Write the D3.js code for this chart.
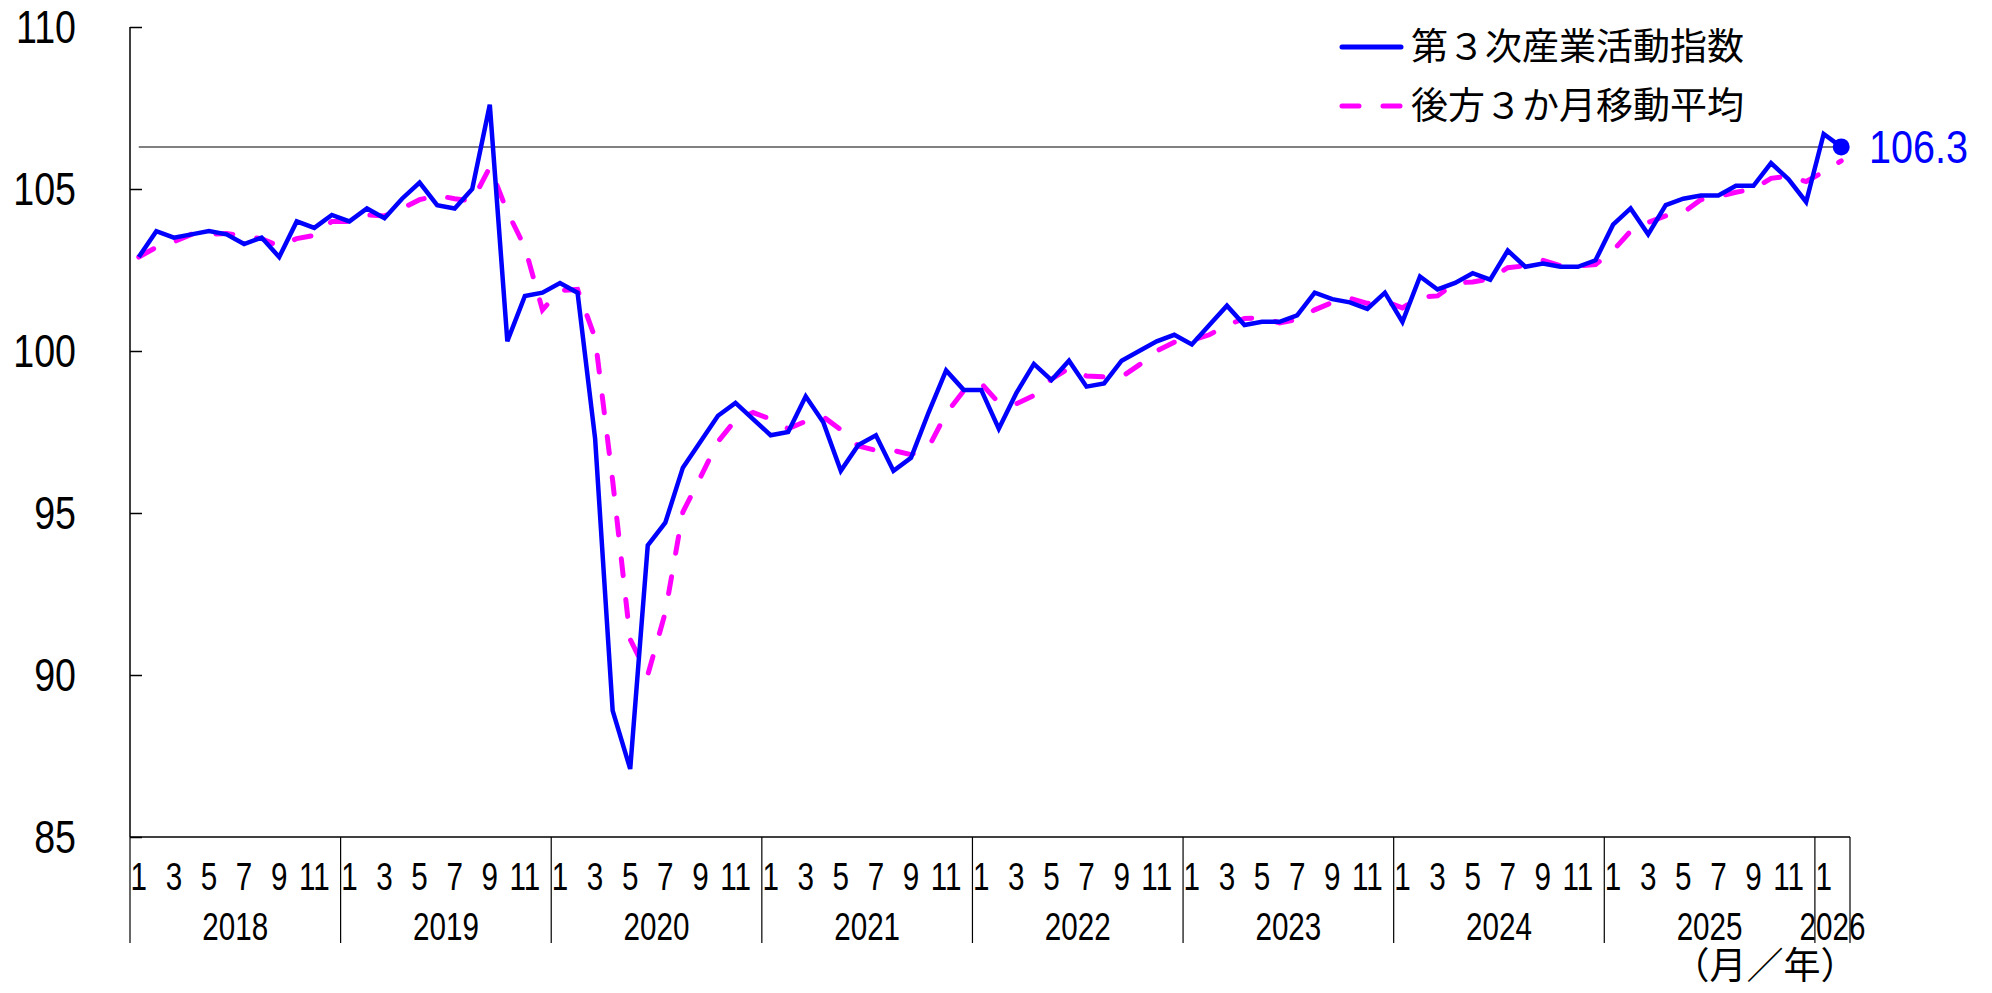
<!DOCTYPE html>
<html><head><meta charset="utf-8">
<script src="https://cdn.jsdelivr.net/npm/d3@7"></script>
<style>
body{margin:0;background:#fff;}
svg{display:block;}
.num{font-family:"Liberation Sans","Arial",sans-serif;}
.jp{font-family:"Noto Sans CJK JP","Noto Sans CJK SC",sans-serif;}
</style></head><body>
<svg id="c" width="1992" height="993"></svg>
<script>
const years = [2018,2019,2020,2021,2022,2023,2024,2025,2026];
const monthsInYear = [12,12,12,12,12,12,12,12,2];
const monthTickLabels = [1,3,5,7,9,11];
const yTicks = [85,90,95,100,105,110];
const seriesNames = ["第３次産業活動指数","後方３か月移動平均"];
const index = [
 102.9,103.7,103.5,103.6,103.7,103.6,103.3,103.5,102.9,104.0,103.8,104.2,
 104.0,104.4,104.1,104.7,105.2,104.5,104.4,105.0,107.6,100.3,101.7,101.8,
 102.1,101.8,97.3,88.9,87.1,94.0,94.7,96.4,97.2,98.0,98.4,97.9,
 97.4,97.5,98.6,97.8,96.3,97.1,97.4,96.3,96.7,98.1,99.4,98.8,
 98.8,97.6,98.7,99.6,99.1,99.7,98.9,99.0,99.7,100.0,100.3,100.5,
 100.2,100.8,101.4,100.8,100.9,100.9,101.1,101.8,101.6,101.5,101.3,101.8,
 100.9,102.3,101.9,102.1,102.4,102.2,103.1,102.6,102.7,102.6,102.6,102.8,
 103.9,104.4,103.6,104.5,104.7,104.8,104.8,105.1,105.1,105.8,105.3,104.6,
 106.7,106.3];
const movingAvg = [
 102.9,103.2,103.37,103.6,103.6,103.63,103.53,103.47,103.23,103.47,103.57,104.0,
 104.0,104.2,104.17,104.4,104.67,104.8,104.7,104.63,105.67,104.3,103.2,101.27,
 101.87,101.9,100.4,96.0,91.1,90.0,91.93,95.03,96.1,97.2,97.87,98.1,
 97.9,97.6,97.83,97.97,97.57,97.07,96.93,96.93,96.8,97.03,98.07,98.77,
 99.0,98.4,98.37,98.63,99.13,99.47,99.23,99.2,99.2,99.57,100.0,100.27,
 100.33,100.5,100.8,101.0,101.03,100.87,100.97,101.27,101.5,101.63,101.47,101.53,
 101.33,101.67,101.7,102.1,102.13,102.23,102.57,102.63,102.8,102.63,102.63,102.67,
 103.1,103.7,103.97,104.17,104.27,104.67,104.77,104.9,105.0,105.33,105.4,105.23,
 105.53,105.87];
const latestLabel = "106.3";

const months = [];
years.forEach((y,yi)=>{for(let m=1;m<=monthsInYear[yi];m++) months.push({y,m,key:y+"-"+m});});
const data = months.map((d,i)=>({...d, v:index[i], ma:movingAvg[i]}));

const svg = d3.select("#c");
const L=130, R=1850, T=27, B=837;
const x = d3.scaleBand().domain(months.map(d=>d.key)).range([L,R]).padding(0);
const cx = k => x(k)+x.bandwidth()/2;
const y = d3.scaleLinear().domain([85,110]).range([B,T]);

function ctext(parent, px, py, txt, size, anchor, sx, fill){
  return parent.append("text").attr("class","num")
    .attr("transform",`translate(${px},${py}) scale(${sx},1)`)
    .attr("text-anchor",anchor).attr("font-size",size).attr("fill",fill||"#000").text(txt);
}

const yAxis = d3.axisRight(y).tickValues(yTicks).tickSize(12).tickFormat("");
const ga = svg.append("g").attr("transform",`translate(${L},0)`).call(yAxis);
ga.select(".domain").attr("stroke","#000").attr("stroke-width",1.5).attr("d",`M0,${T}V${B}`);
ga.selectAll(".tick line").attr("stroke","#000").attr("stroke-width",1.5);
const gy = svg.append("g");
yTicks.forEach(t=>ctext(gy, 76, y(t)+16, t, 47, "end", 0.8));

svg.append("line").attr("x1",L).attr("x2",R).attr("y1",B).attr("y2",B).attr("stroke","#000").attr("stroke-width",1.5);
const yearStarts = months.filter(d=>d.m===1).map(d=>x(d.key));
yearStarts.concat([R]).forEach(px=>{
  svg.append("line").attr("x1",px).attr("x2",px).attr("y1",B).attr("y2",943).attr("stroke","#000").attr("stroke-width",1.2);
});
const gm = svg.append("g");
months.filter(d=>monthTickLabels.includes(d.m)).forEach(d=>ctext(gm, cx(d.key), 890, d.m, 39, "middle", 0.76));
years.forEach(yr=>{
  const ms = months.filter(d=>d.y===yr);
  const x0 = x(ms[0].key), x1 = x(ms[ms.length-1].key)+x.bandwidth();
  ctext(svg, (x0+x1)/2, 940, yr, 39, "middle", 0.76);
});
svg.append("text").attr("class","jp").attr("x",1765).attr("y",979).attr("text-anchor","middle")
  .attr("font-size",37).attr("fill","#000").text("（月／年）");

const last = data[data.length-1];
svg.append("line").attr("x1",cx(data[0].key)).attr("x2",cx(last.key)).attr("y1",y(last.v)).attr("y2",y(last.v))
  .attr("stroke","#808080").attr("stroke-width",2);

const lineV = d3.line().x(d=>cx(d.key)).y(d=>y(d.v));
const lineM = d3.line().x(d=>cx(d.key)).y(d=>y(d.ma));
svg.append("path").datum(data).attr("d",lineM).attr("fill","none").attr("stroke","#FF00FF")
  .attr("stroke-width",5).attr("stroke-dasharray","17,24").attr("stroke-linecap","round");
svg.append("path").datum(data).attr("d",lineV).attr("fill","none").attr("stroke","#0000FF")
  .attr("stroke-width",4.5);
svg.append("circle").attr("cx",cx(last.key)).attr("cy",y(last.v)).attr("r",8.5).attr("fill","#0000FF");
svg.append("text").attr("class","num").attr("x",1869).attr("y",y(last.v)+16)
  .attr("font-size",46).attr("fill","#0000FF").attr("textLength",99).attr("lengthAdjust","spacingAndGlyphs").text(latestLabel);

const lg = svg.append("g");
lg.append("line").attr("x1",1342).attr("x2",1401).attr("y1",47).attr("y2",47).attr("stroke","#0000FF").attr("stroke-width",5).attr("stroke-linecap","round");
lg.append("line").attr("x1",1342).attr("x2",1401).attr("y1",106).attr("y2",106).attr("stroke","#FF00FF").attr("stroke-width",5)
  .attr("stroke-linecap","round").attr("stroke-dasharray","17,24");
lg.selectAll("text").data(seriesNames).join("text").attr("class","jp")
  .attr("x",1411).attr("y",(d,i)=>47+i*59).attr("dy","0.36em").attr("font-size",37).attr("fill","#000").text(d=>d);
</script>
</body></html>
